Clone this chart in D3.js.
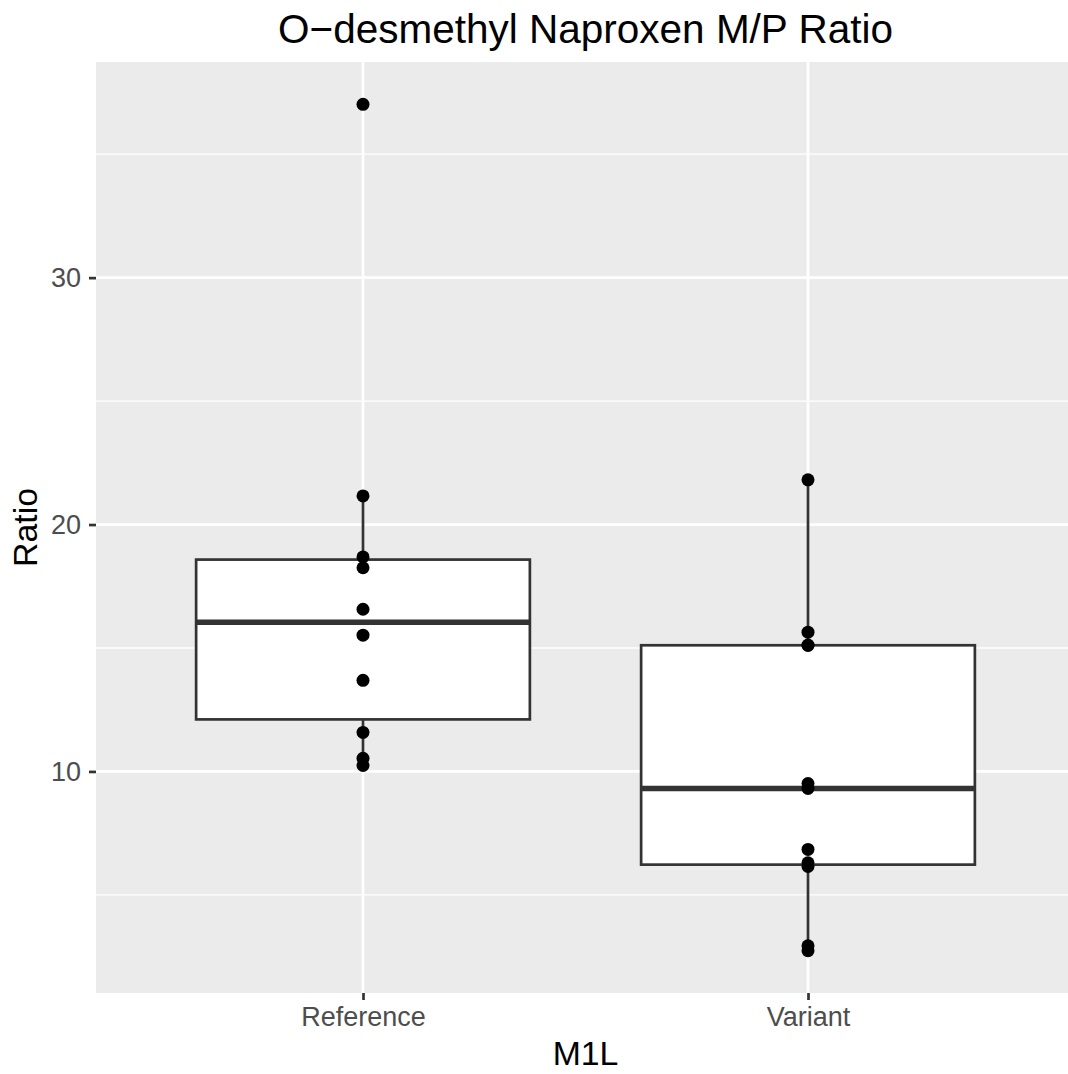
<!DOCTYPE html>
<html>
<head>
<meta charset="utf-8">
<script src="https://d3js.org/d3.v7.min.js"></script>
<style>
  body { margin: 0; background: #fff; }
  svg { display: block; font-family: "Liberation Sans", Arial, sans-serif; }
</style>
</head>
<body>
<script>
const width = 1068;
const height = 1074;

// Data.
const categories = ['Reference', 'Variant'];
const referenceValues = [37.02, 21.16, 18.69, 18.25, 16.57, 15.52, 13.69, 11.58, 10.53, 10.24];
const variantValues = [21.81, 15.64, 15.12, 15.1, 9.51, 9.31, 6.84, 6.3, 6.15, 2.94, 2.74];
const yTicks = [10, 20, 30];
const yMinor = [5, 15, 25, 35];

const title = 'O\u2212desmethyl Naproxen M/P Ratio';
const xTitle = 'M1L';
const yTitle = 'Ratio';

// Panel box (right edge runs past the visible area, as in the picture).
let margin = { top: 62, right: -7, bottom: 81, left: 96 };
let panelRight = width - margin.right;
let panelBottom = height - margin.bottom;

let svg = d3
  .select('body')
  .append('svg')
  .attr('width', width)
  .attr('height', height);

let groups = [
  { cat: categories[0], values: referenceValues },
  { cat: categories[1], values: variantValues }
];

// Box statistics, quantile type 7 like R.
groups.forEach((g) => {
  let s = g.values.slice().sort(d3.ascending);
  g.q1 = d3.quantileSorted(s, 0.25);
  g.med = d3.quantileSorted(s, 0.5);
  g.q3 = d3.quantileSorted(s, 0.75);
  let iqr = g.q3 - g.q1;
  let lo = g.q1 - 1.5 * iqr;
  let hi = g.q3 + 1.5 * iqr;
  g.wLo = d3.min(s.filter((v) => v >= lo));
  g.wHi = d3.max(s.filter((v) => v <= hi));
});

let all = referenceValues.concat(variantValues);
let [vmin, vmax] = d3.extent(all);
let pad = (vmax - vmin) * 0.05;

let yScale = d3
  .scaleLinear()
  .domain([vmin - pad, vmax + pad])
  .range([panelBottom, margin.top]);

// Discrete x: positions 1..2 with 0.6 expansion each side.
let xIndex = d3
  .scaleLinear()
  .domain([0.4, categories.length + 0.6])
  .range([margin.left, panelRight]);
let xScale = (c) => xIndex(categories.indexOf(c) + 1);
let boxHalf = (xIndex(1.75) - xIndex(1)) / 2;

// Panel background.
svg
  .append('rect')
  .attr('x', margin.left)
  .attr('y', margin.top)
  .attr('width', panelRight - margin.left)
  .attr('height', panelBottom - margin.top)
  .attr('fill', '#ebebeb');

let grid = svg.append('g');
grid
  .selectAll('line.minor')
  .data(yMinor)
  .join('line')
  .attr('class', 'minor')
  .attr('x1', margin.left)
  .attr('x2', panelRight)
  .attr('y1', (d) => yScale(d))
  .attr('y2', (d) => yScale(d))
  .attr('stroke', '#fff')
  .attr('stroke-width', 1.35);
grid
  .selectAll('line.major')
  .data(yTicks)
  .join('line')
  .attr('class', 'major')
  .attr('x1', margin.left)
  .attr('x2', panelRight)
  .attr('y1', (d) => yScale(d))
  .attr('y2', (d) => yScale(d))
  .attr('stroke', '#fff')
  .attr('stroke-width', 2.7);
grid
  .selectAll('line.xmajor')
  .data(categories)
  .join('line')
  .attr('class', 'xmajor')
  .attr('x1', (d) => xScale(d))
  .attr('x2', (d) => xScale(d))
  .attr('y1', margin.top)
  .attr('y2', panelBottom)
  .attr('stroke', '#fff')
  .attr('stroke-width', 2.7);

// Boxplots.
let boxes = svg.selectAll('g.box').data(groups).join('g').attr('class', 'box');
boxes
  .append('line')
  .attr('x1', (d) => xScale(d.cat))
  .attr('x2', (d) => xScale(d.cat))
  .attr('y1', (d) => yScale(d.wHi))
  .attr('y2', (d) => yScale(d.q3))
  .attr('stroke', '#333')
  .attr('stroke-width', 2.7);
boxes
  .append('line')
  .attr('x1', (d) => xScale(d.cat))
  .attr('x2', (d) => xScale(d.cat))
  .attr('y1', (d) => yScale(d.q1))
  .attr('y2', (d) => yScale(d.wLo))
  .attr('stroke', '#333')
  .attr('stroke-width', 2.7);
boxes
  .append('rect')
  .attr('x', (d) => xScale(d.cat) - boxHalf)
  .attr('width', boxHalf * 2)
  .attr('y', (d) => yScale(d.q3))
  .attr('height', (d) => yScale(d.q1) - yScale(d.q3))
  .attr('fill', '#fff')
  .attr('stroke', '#333')
  .attr('stroke-width', 2.7);
boxes
  .append('line')
  .attr('x1', (d) => xScale(d.cat) - boxHalf)
  .attr('x2', (d) => xScale(d.cat) + boxHalf)
  .attr('y1', (d) => yScale(d.med))
  .attr('y2', (d) => yScale(d.med))
  .attr('stroke', '#333')
  .attr('stroke-width', 5.4);

// Points.
let points = groups.flatMap((g) => g.values.map((v) => ({ cat: g.cat, value: v })));
svg
  .append('g')
  .selectAll('circle')
  .data(points)
  .join('circle')
  .attr('cx', (d) => xScale(d.cat))
  .attr('cy', (d) => yScale(d.value))
  .attr('r', 6.5)
  .attr('fill', '#000');

// Axes.
let leftAxis = d3.axisLeft(yScale).tickValues(yTicks).tickSize(7).tickPadding(8);
let leftContainer = svg
  .append('g')
  .attr('transform', `translate(${margin.left}, 0)`)
  .call(leftAxis);

let bandAxis = d3
  .scalePoint()
  .domain(categories)
  .range([xScale(categories[0]), xScale(categories[categories.length - 1])]);
let bottomAxis = d3.axisBottom(bandAxis).tickSize(7).tickPadding(7);
let bottomContainer = svg
  .append('g')
  .attr('transform', `translate(0, ${panelBottom})`)
  .call(bottomAxis);

[leftContainer, bottomContainer].forEach((c) => {
  c.select('.domain').remove();
  c.selectAll('.tick line').attr('stroke', '#333').attr('stroke-width', 2.7);
  c.selectAll('.tick text')
    .attr('fill', '#4d4d4d')
    .style('font-size', '27px')
    .style('font-family', '"Liberation Sans", Arial, sans-serif');
});

// Titles.
let midX = (margin.left + panelRight) / 2;
svg
  .append('text')
  .attr('x', midX)
  .attr('y', 43)
  .attr('text-anchor', 'middle')
  .style('font-size', '40.5px')
  .text(title);

svg
  .append('text')
  .attr('x', midX)
  .attr('y', 1065)
  .attr('text-anchor', 'middle')
  .style('font-size', '33.75px')
  .text(xTitle);

svg
  .append('text')
  .attr('transform', `translate(37, ${(margin.top + panelBottom) / 2}) rotate(-90)`)
  .attr('text-anchor', 'middle')
  .style('font-size', '33.75px')
  .text(yTitle);
</script>
</body>
</html>
